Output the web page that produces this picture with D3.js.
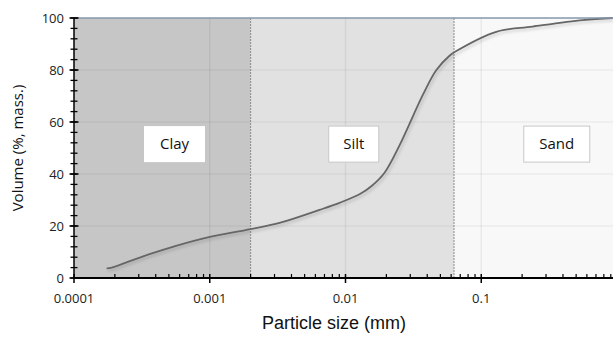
<!DOCTYPE html>
<html>
<head>
<meta charset="utf-8">
<script src="https://cdn.jsdelivr.net/npm/d3@7"></script>
<style>
  body { margin: 0; background: #fff; }
  svg { display: block; }
</style>
</head>
<body>
<div id="chart"></div>
<script>
// particle size distribution (mm, cumulative volume %)
var sizes = [0.000174, 0.00019, 0.00036, 0.000843, 0.002, 0.00327, 0.00644, 0.00903, 0.01268, 0.0155, 0.0194, 0.025, 0.0372, 0.0467, 0.0584, 0.0655, 0.129, 0.239, 0.56, 0.93];
var volume = [3.7, 4.0, 9.2, 14.9, 18.8, 21.2, 26.2, 28.9, 32.2, 35.3, 40.5, 51, 70.5, 80, 85.5, 87.3, 94.7, 96.7, 99.2, 100];

var classNames = ["Clay", "Silt", "Sand"];
var classBounds = [0.0001, 0.002, 0.063, 1];
var classColors = ["#c6c6c6", "#e1e1e1", "#f8f8f8"];

var xTicks = [0.0001, 0.001, 0.01, 0.1];
var xTickLabels = ["0.0001", "0.001", "0.01", "0.1"];
var yTicks = [0, 20, 40, 60, 80, 100];

var W = 613, H = 338;
var margin = { top: 18, right: -4, bottom: 60, left: 74 };
var width = W - margin.left - margin.right;
var height = H - margin.top - margin.bottom;

var svg = d3.select("#chart").append("svg")
  .attr("width", W).attr("height", H);

var defs = svg.append("defs");
var f = defs.append("filter").attr("id", "shadow")
  .attr("x", "-10%").attr("y", "-10%").attr("width", "120%").attr("height", "130%");
f.append("feDropShadow").attr("dx", 1.5).attr("dy", 2).attr("stdDeviation", 1.5)
  .attr("flood-color", "#000").attr("flood-opacity", 0.18);

var g = svg.append("g")
  .attr("transform", "translate(" + margin.left + "," + margin.top + ")");

var x = d3.scaleLog().domain([0.0001, 1]).range([0, width]);
var y = d3.scaleLinear().domain([0, 100]).range([height, 0]);

// class bands
g.selectAll("rect.band")
  .data(classNames)
  .enter().append("rect")
  .attr("class", "band")
  .attr("x", function (d, i) { return x(classBounds[i]); })
  .attr("y", 0)
  .attr("width", function (d, i) { return x(classBounds[i + 1]) - x(classBounds[i]); })
  .attr("height", height)
  .attr("fill", function (d, i) { return classColors[i]; });

// gridlines
g.selectAll("line.vgrid")
  .data(xTicks.slice(1))
  .enter().append("line")
  .attr("x1", function (d) { return x(d); })
  .attr("x2", function (d) { return x(d); })
  .attr("y1", 0).attr("y2", height)
  .attr("stroke", "#000").attr("stroke-opacity", 0.06).attr("stroke-width", 1.5);

g.selectAll("line.hgrid")
  .data(yTicks.slice(1, -1))
  .enter().append("line")
  .attr("x1", 0).attr("x2", width)
  .attr("y1", function (d) { return y(d); })
  .attr("y2", function (d) { return y(d); })
  .attr("stroke", "#000").attr("stroke-opacity", 0.05).attr("stroke-width", 1.5);

// boundary dotted lines
g.selectAll("line.bound")
  .data(classBounds.slice(1, 3))
  .enter().append("line")
  .attr("x1", function (d) { return x(d); })
  .attr("x2", function (d) { return x(d); })
  .attr("y1", 0).attr("y2", height)
  .attr("stroke", "#8a8a8a").attr("stroke-width", 1)
  .attr("stroke-dasharray", "2,1");

// label boxes
var boxes = [
  { cx: x(0.00055), w: 61 },
  { cx: x(0.0115), w: 50 },
  { cx: x(0.36), w: 66 }
];
var lab = g.selectAll("g.lab")
  .data(classNames)
  .enter().append("g")
  .attr("transform", function (d, i) { return "translate(" + boxes[i].cx + "," + y(51.5) + ")"; });
lab.append("rect")
  .attr("x", function (d, i) { return -boxes[i].w / 2; })
  .attr("y", -18)
  .attr("width", function (d, i) { return boxes[i].w; })
  .attr("height", 36)
  .attr("fill", "#fff")
  .attr("stroke", function (d, i) { return i == 0 ? "none" : "#c8c8c8"; });
lab.append("text")
  .attr("text-anchor", "middle")
  .attr("dy", "0.35em")
  .attr("font-family", "Open Sans, sans-serif")
  .attr("font-size", "15px")
  .attr("fill", "#111")
  .text(function (d) { return d; });

// curve
var line = d3.line()
  .x(function (d, i) { return x(sizes[i]); })
  .y(function (d) { return y(d); })
  .curve(d3.curveCatmullRom.alpha(0.5));
g.append("path")
  .datum(volume)
  .attr("d", line)
  .attr("fill", "none")
  .attr("stroke", "#666")
  .attr("stroke-width", 1.8)
  .attr("filter", "url(#shadow)");

// top border
g.append("line")
  .attr("x1", 0).attr("x2", width)
  .attr("y1", 0).attr("y2", 0)
  .attr("stroke", "#8796ab").attr("stroke-width", 1.5);

// y axis
var yMinor = d3.range(0, 101, 4);
g.selectAll("line.ymin")
  .data(yMinor)
  .enter().append("line")
  .attr("x1", -3.5).attr("x2", 3.5)
  .attr("y1", function (d) { return y(d); })
  .attr("y2", function (d) { return y(d); })
  .attr("stroke", "#000").attr("stroke-width", 1.3);
g.selectAll("line.ymaj")
  .data(yTicks)
  .enter().append("line")
  .attr("x1", -4.5).attr("x2", 4.5)
  .attr("y1", function (d) { return y(d); })
  .attr("y2", function (d) { return y(d); })
  .attr("stroke", "#000").attr("stroke-width", 1.5);
g.append("line")
  .attr("x1", 0).attr("x2", 0).attr("y1", 0).attr("y2", height)
  .attr("stroke", "#000").attr("stroke-width", 1.5);
g.selectAll("text.ylab")
  .data(yTicks)
  .enter().append("text")
  .attr("x", -10)
  .attr("y", function (d) { return y(d); })
  .attr("dy", "0.35em")
  .attr("text-anchor", "end")
  .attr("font-family", "Open Sans, sans-serif")
  .attr("font-size", "13px")
  .attr("fill", "#222")
  .text(function (d) { return d; });

// x axis
var xMinor = [];
[0.0001, 0.001, 0.01, 0.1].forEach(function (dec) {
  for (var k = 2; k <= 9; k++) xMinor.push(dec * k);
});
g.selectAll("line.xmin")
  .data(xMinor)
  .enter().append("line")
  .attr("x1", function (d) { return x(d); })
  .attr("x2", function (d) { return x(d); })
  .attr("y1", height).attr("y2", height - 4)
  .attr("stroke", "#000").attr("stroke-width", 1.2);
g.selectAll("line.xmaj")
  .data(xTicks)
  .enter().append("line")
  .attr("x1", function (d) { return x(d); })
  .attr("x2", function (d) { return x(d); })
  .attr("y1", height - 4).attr("y2", height + 5)
  .attr("stroke", "#000").attr("stroke-width", 1.5);
g.append("line")
  .attr("x1", 0).attr("x2", width).attr("y1", height).attr("y2", height)
  .attr("stroke", "#000").attr("stroke-width", 2);
g.selectAll("text.xlab")
  .data(xTicks)
  .enter().append("text")
  .attr("x", function (d) { return x(d); })
  .attr("y", height + 20)
  .attr("dy", "0.35em")
  .attr("text-anchor", "middle")
  .attr("font-family", "Open Sans, sans-serif")
  .attr("font-size", "13px")
  .attr("fill", "#222")
  .text(function (d, i) { return xTickLabels[i]; });

// axis titles
svg.append("text")
  .attr("x", 334).attr("y", 329)
  .attr("text-anchor", "middle")
  .attr("font-family", "Liberation Sans, Arial, sans-serif")
  .attr("font-size", "18px")
  .attr("fill", "#111")
  .text("Particle size (mm)");
svg.append("text")
  .attr("transform", "translate(23,148) rotate(-90)")
  .attr("text-anchor", "middle")
  .attr("font-family", "Open Sans, sans-serif")
  .attr("font-size", "15px")
  .attr("fill", "#111")
  .text("Volume (%, mass.)");
</script>
</body>
</html>
